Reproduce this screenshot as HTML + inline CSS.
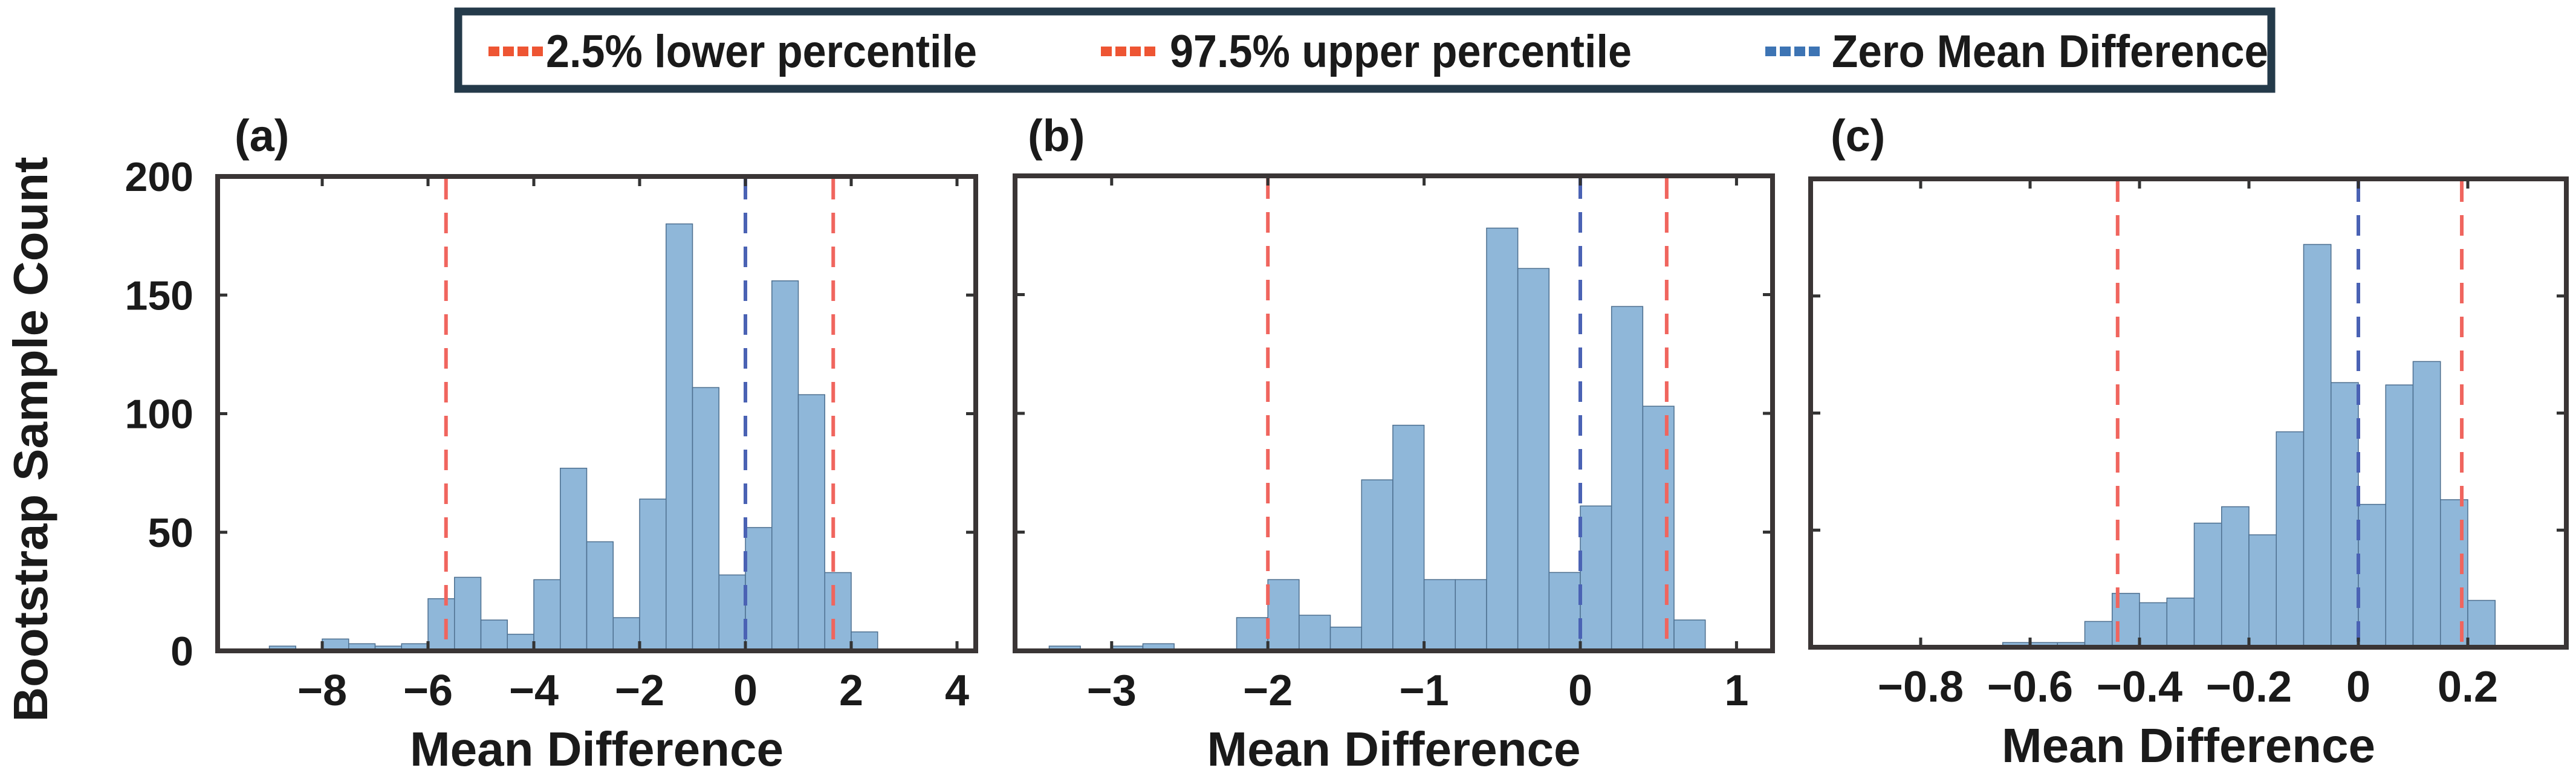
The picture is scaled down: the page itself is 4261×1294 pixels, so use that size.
<!DOCTYPE html>
<html><head><meta charset="utf-8"><style>
html,body{margin:0;padding:0;background:#fff;}
svg{display:block;}
text{font-family:"Liberation Sans Narrow","Liberation Sans",sans-serif;font-weight:bold;fill:#1a1a1a;}
</style></head><body>
<svg id="fig" width="4261" height="1294" viewBox="0 0 4261 1294" xmlns="http://www.w3.org/2000/svg">
<g>
<rect x="758" y="19" width="2999" height="128" fill="#fff" stroke="#243a4a" stroke-width="13"/>
<line x1="808" y1="85" x2="898" y2="85" stroke="#ee5533" stroke-width="16" stroke-dasharray="18,6"/>
<text x="903" y="111" font-size="76" textLength="713" lengthAdjust="spacingAndGlyphs">2.5% lower percentile</text>
<line x1="1821" y1="85" x2="1913" y2="85" stroke="#ee5533" stroke-width="16" stroke-dasharray="18,6"/>
<text x="1935" y="111" font-size="76" textLength="764" lengthAdjust="spacingAndGlyphs">97.5% upper percentile</text>
<line x1="2920" y1="85" x2="3010" y2="85" stroke="#3d74b4" stroke-width="16" stroke-dasharray="18,6"/>
<text x="3030" y="111" font-size="76" textLength="722" lengthAdjust="spacingAndGlyphs">Zero Mean Difference</text>
</g>
<text transform="translate(78,727) rotate(-90)" text-anchor="middle" font-size="80" textLength="935" lengthAdjust="spacingAndGlyphs" style="font-family:'Liberation Sans',sans-serif">Bootstrap Sample Count</text>
</svg>
<script>
// Panel (a)
const aBinStarts = [-9,-8.5,-8,-7.5,-7,-6.5,-6,-5.5,-5,-4.5,-4,-3.5,-3,-2.5,-2,-1.5,-1,-0.5,0,0.5,1,1.5,2];
const aCounts    = [2,0,5,3,2,3,22,31,13,7,30,77,46,14,64,180,111,32,52,156,108,33,8];
const aXTicks    = [-8,-6,-4,-2,0,2,4];
const aXTickLabels = ["\u22128","\u22126","\u22124","\u22122","0","2","4"];
const aLines     = [-5.66, 1.66, 0];
// Panel (b)
const bBinStarts = [-3.4,-3.2,-3.0,-2.8,-2.6,-2.4,-2.2,-2.0,-1.8,-1.6,-1.4,-1.2,-1.0,-0.8,-0.6,-0.4,-0.2,0,0.2,0.4,0.6];
const bCounts    = [2,0,2,3,0,0,14,30,15,10,72,95,30,30,178,161,33,61,145,103,13];
const bXTicks    = [-3,-2,-1,0,1];
const bXTickLabels = ["\u22123","\u22122","\u22121","0","1"];
const bLines     = [-2.0, 0.553, 0];
// Panel (c)
const cBinStarts = [-0.65,-0.6,-0.55,-0.5,-0.45,-0.4,-0.35,-0.3,-0.25,-0.2,-0.15,-0.1,-0.05,0,0.05,0.1,0.15,0.2];
const cCounts    = [2,2,2,11,23,19,21,53,60,48,92,172,113,61,112,122,63,20];
const cXTicks    = [-0.8,-0.6,-0.4,-0.2,0,0.2];
const cXTickLabels = ["\u22120.8","\u22120.6","\u22120.4","\u22120.2","0","0.2"];
const cLines     = [-0.44, 0.189, 0];
const yTicks = [0,50,100,150,200];
const yTickLabels = ["0","50","100","150","200"];

const NS = "http://www.w3.org/2000/svg";
const svg = document.getElementById("fig");
function mk(tag, attrs, parent){
  const e = document.createElementNS(NS, tag);
  for (const k in attrs) e.setAttribute(k, attrs[k]);
  (parent||svg).appendChild(e);
  return e;
}
function panel(p){
  const g = mk("g", {});
  
  
  const x = v => p.x0 + (v - p.v0) * p.ppu;
  const y = c => p.bottom - (p.bottom - p.top) * c / 200;
  const bw = p.binW;
  p.starts.forEach((s, i) => {
    if (p.counts[i] <= 0) return;
    const r = mk("rect", {x: x(s), y: y(p.counts[i]), width: x(s + bw) - x(s), height: y(0) - y(p.counts[i]), fill: "#8fb7d9", stroke: "#4d6f8f", "stroke-width": 1.5}, g);
    
    
  });
  p.lines.forEach((v, i) => {
    const col = i === 2 ? "#4a62b4" : "#f0655e";
    const l = mk("line", {x1: x(v), x2: x(v), y1: p.top + 4, y2: p.bottom, stroke: col, "stroke-width": 6, "stroke-dasharray": "34,22"}, g);
    
    
  });
  p.xt.forEach((v, i) => {
    const t1 = mk("line", {x1: x(v), x2: x(v), y1: p.bottom, y2: p.bottom - 16, stroke: "#333", "stroke-width": 5}, g);
    
    
    const t2 = mk("line", {x1: x(v), x2: x(v), y1: p.top, y2: p.top + 16, stroke: "#333", "stroke-width": 5}, g);
    
    
    const lb = mk("text", {x: x(v), y: p.bottom + 90, "font-size": 72, "text-anchor": "middle", fill: "#2a2a2a"}, g);
    lb.textContent = p.xl[i];
    
    
  });
  yTicks.forEach((v, i) => {
    const t1 = mk("line", {x1: p.left, x2: p.left + 16, y1: y(v), y2: y(v), stroke: "#333", "stroke-width": 5}, g);
    
    
    const t2 = mk("line", {x1: p.right, x2: p.right - 16, y1: y(v), y2: y(v), stroke: "#333", "stroke-width": 5}, g);
    
    
    if (p.ylabels) {
      const lb = mk("text", {x: p.left - 40, y: y(v) + 24, "font-size": 68, "text-anchor": "end"}, g);
      lb.textContent = yTickLabels[i];
      
      
    }
  });
  const box = mk("rect", {x: p.left, y: p.top, width: p.right - p.left, height: p.bottom - p.top, fill: "none", stroke: "#3a3535", "stroke-width": 8}, g);
  
  
  const xt = mk("text", {x: (p.left + p.right) / 2, y: p.bottom + 190, "font-size": 80, "text-anchor": "middle"}, g);
  xt.textContent = "Mean Difference";
  
  
  const pl = mk("text", {x: p.labelX, y: 250, "font-size": 74}, g);
  pl.textContent = "(" + p.id + ")";
  
  
}
panel({id:"a", left:360, right:1614, top:292, bottom:1077, x0:1233, v0:0, ppu:87.5, binW:0.5,
  starts:aBinStarts, counts:aCounts, xt:aXTicks, xl:aXTickLabels, lines:aLines, ylabels:true, labelX:388});
panel({id:"b", left:1679, right:2932, top:291, bottom:1077, x0:2614, v0:0, ppu:258.4, binW:0.2,
  starts:bBinStarts, counts:bCounts, xt:bXTicks, xl:bXTickLabels, lines:bLines, ylabels:false, labelX:1700});
panel({id:"c", left:2995, right:4245, top:296, bottom:1071, x0:3901, v0:0, ppu:905, binW:0.05,
  starts:cBinStarts, counts:cCounts, xt:cXTicks, xl:cXTickLabels, lines:cLines, ylabels:false, labelX:3028});
</script>
</body></html>
